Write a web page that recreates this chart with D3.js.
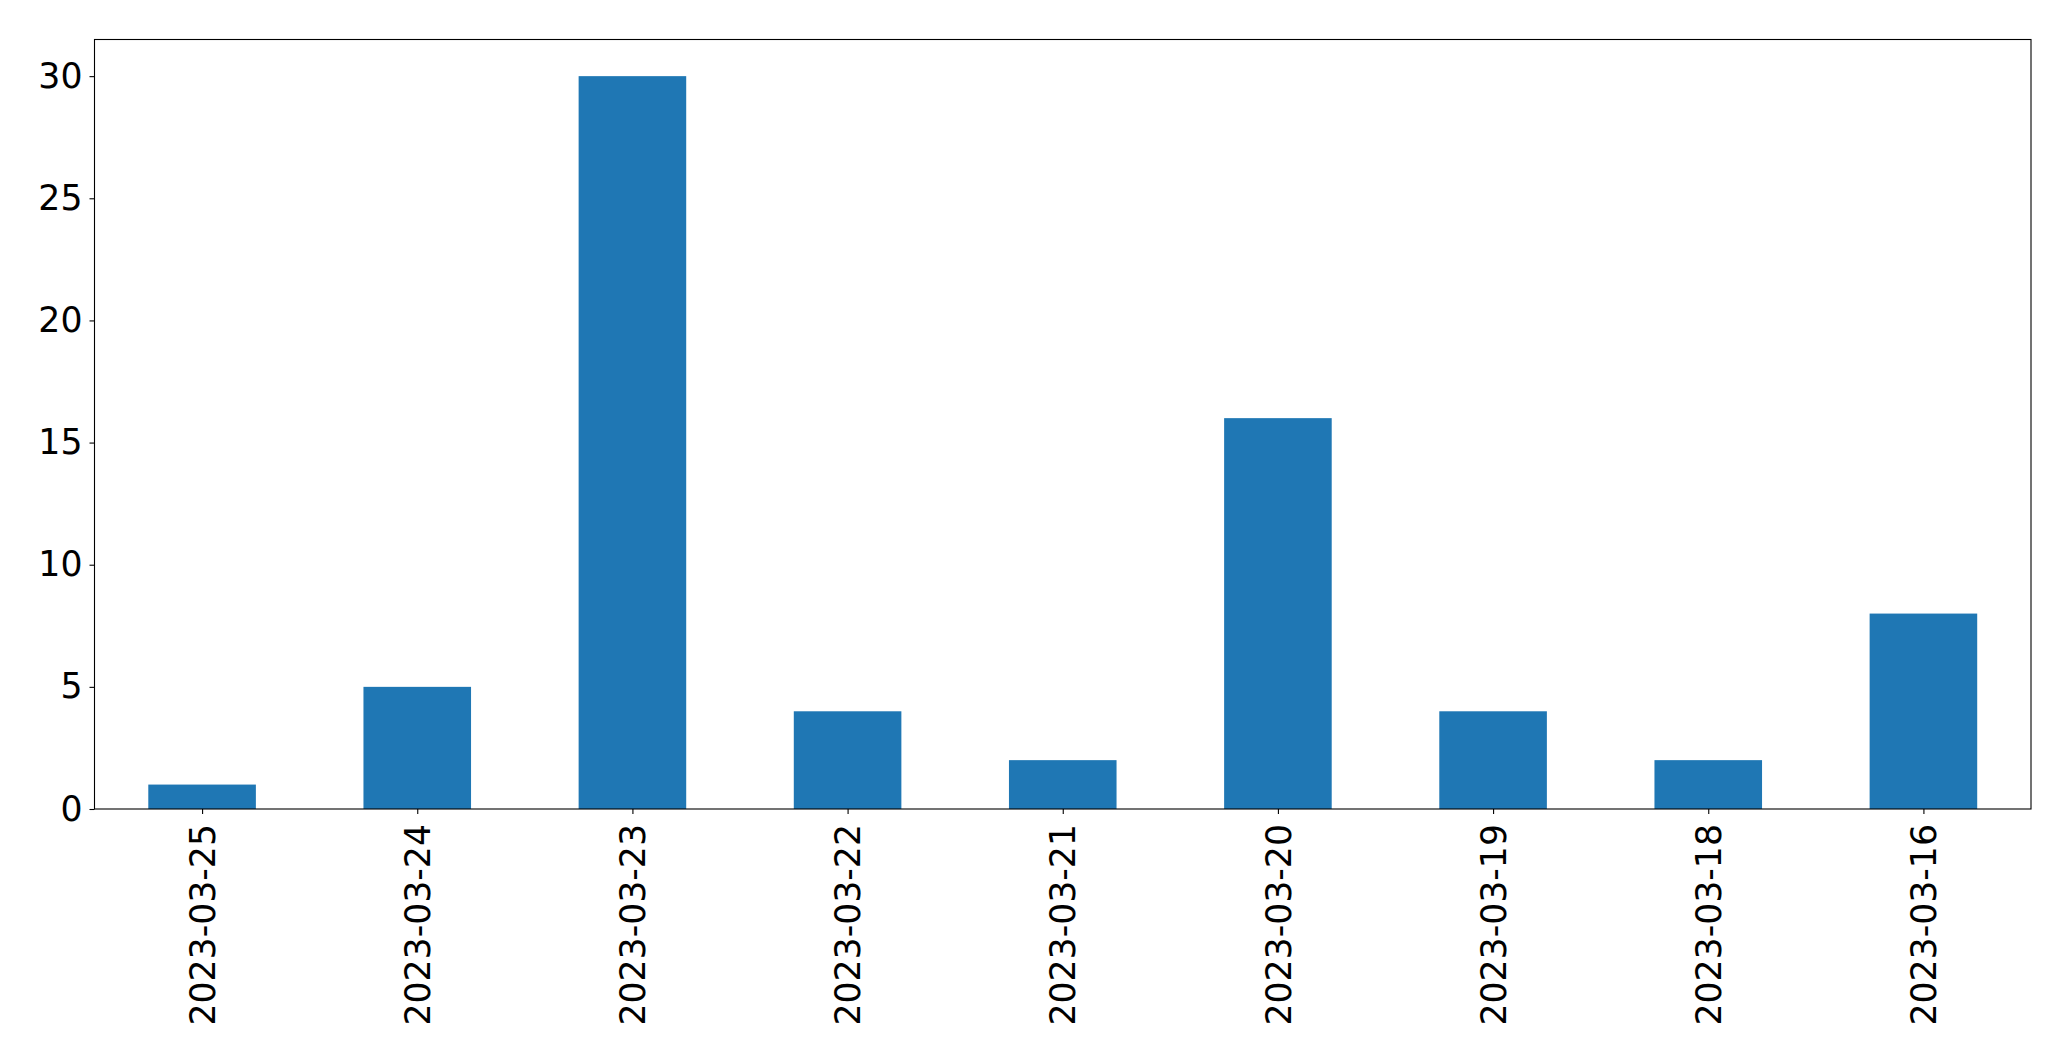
<!DOCTYPE html>
<html>
<head>
<meta charset="utf-8">
<script src="https://cdn.jsdelivr.net/npm/d3@7"></script>
<style>
  html, body { margin: 0; padding: 0; background: #fff; }
  svg { display: block; }
</style>
</head>
<body>
<script>
const categories = ["2023-03-25","2023-03-24","2023-03-23","2023-03-22","2023-03-21","2023-03-20","2023-03-19","2023-03-18","2023-03-16"];
const values = [1, 5, 30, 4, 2, 16, 4, 2, 8];
const yTicks = [0, 5, 10, 15, 20, 25, 30];

const W = 2071, H = 1061;
const m = { left: 94.5, right: 2031, top: 39.5, bottom: 809 };
const fontSize = 34.7;

const svg = d3.select("body").append("svg").attr("width", W).attr("height", H);

const x = d3.scaleLinear().domain([-0.5, categories.length - 0.5]).range([m.left, m.right]);
const y = d3.scaleLinear().domain([0, 31.5]).range([m.bottom, m.top]);

svg.append("g").selectAll("rect").data(values).join("rect")
  .attr("x", (d, i) => x(i - 0.25))
  .attr("width", (d, i) => x(i + 0.25) - x(i - 0.25))
  .attr("y", d => y(d))
  .attr("height", d => y(0) - y(d))
  .attr("fill", "#1f77b4");

// frame
svg.append("rect")
  .attr("x", m.left).attr("y", m.top)
  .attr("width", m.right - m.left).attr("height", m.bottom - m.top)
  .attr("fill", "none").attr("stroke", "#000").attr("stroke-width", 1.1);

const yAxis = d3.axisLeft(y).tickValues(yTicks).tickSize(5).tickPadding(7).tickFormat(d3.format("d"));
const gy = svg.append("g").attr("transform", `translate(${m.left},0)`).call(yAxis);
gy.select(".domain").remove();
gy.selectAll("text").attr("font-family", "DejaVu Sans").attr("font-size", fontSize).attr("fill", "#000");
gy.selectAll("line").attr("stroke", "#000").attr("stroke-width", 1.1);

const xAxis = d3.axisBottom(x).tickValues(d3.range(categories.length)).tickSize(5).tickPadding(0)
  .tickFormat(i => categories[i]);
const gx = svg.append("g").attr("transform", `translate(0,${m.bottom})`).call(xAxis);
gx.select(".domain").remove();
gx.selectAll("line").attr("stroke", "#000").attr("stroke-width", 1.1);
gx.selectAll("text")
  .attr("font-family", "DejaVu Sans").attr("font-size", fontSize).attr("fill", "#000")
  .attr("text-anchor", "end")
  .attr("dy", "0.35em")
  .attr("transform", "translate(0,15) rotate(-90)")
  .attr("x", 0).attr("y", 0);
</script>
</body>
</html>
